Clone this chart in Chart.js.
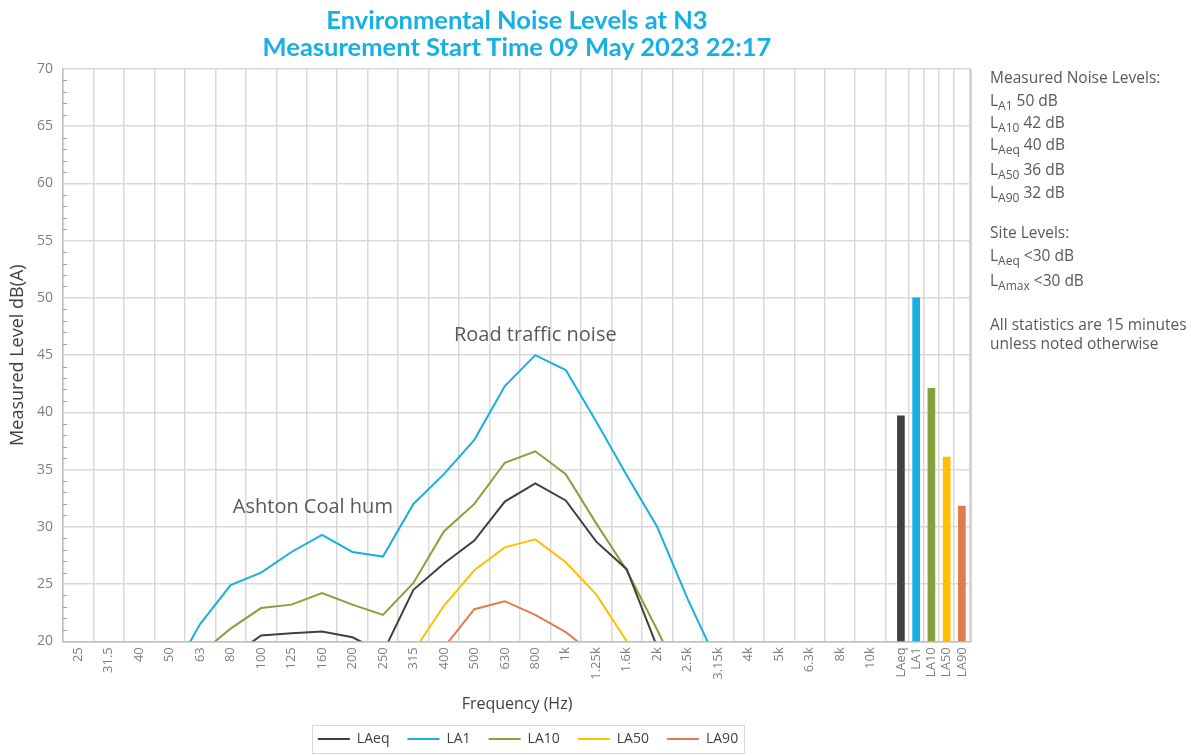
<!DOCTYPE html>
<html>
<head>
<meta charset="utf-8">
<script src="https://cdn.jsdelivr.net/npm/chart.js@4.4.0/dist/chart.umd.min.js"></script>
<style>
  body { margin: 0; background: #fff; }
  #wrap { position: relative; width: 1192px; height: 756px; }
  #noise { position: absolute; left: 0; top: 0; }
  #title { position: absolute; left: 0; top: 6px; width: 1034px; text-align: center;
    font-family: Lato, sans-serif; font-weight: bold; font-size: 25.5px; line-height: 27px; color: #17b0e2; }
  #panel { position: absolute; left: 990px; top: 0; font-family: "Open Sans", sans-serif; font-size: 15.5px; color: #595959; }
  #panel div { position: absolute; white-space: nowrap; }
  #panel sub { font-size: 12px; vertical-align: -4px; }
</style>
</head>
<body>
<div id="wrap">
  <canvas id="noise" width="1056" height="756"></canvas>
  <div id="title">Environmental Noise Levels at N3<br>Measurement Start Time 09 May 2023 22:17</div>
  <div id="panel"></div>
</div>
<script>
// frequency bands on the x axis
var freqLabels = ['25','31.5','40','50','63','80','100','125','160','200','250','315','400','500',
  '630','800','1k','1.25k','1.6k','2k','2.5k','3.15k','4k','5k','6.3k','8k','10k'];

// spectrum values dB(A) (below 20 = off the chart)
var LAeq = [9, 10, 11.5, 14, 16.5, 18.6, 20.5, 20.7, 20.85, 20.35, 19.0, 24.5, 26.8, 28.8, 32.2, 33.8, 32.3, 28.7, 26.3, 19.5, 15, 12, 10.5, 9.5, 9, 8.5, 8];
var LA1  = [13.5, 14, 15, 16.8, 21.5, 24.9, 26.0, 27.8, 29.3, 27.8, 27.4, 32.0, 34.6, 37.6, 42.3, 45.0, 43.7, 39.2, 34.5, 30.0, 23.7, 18.0, 15.5, 14, 12.5, 11.5, 10.5];
var LA10 = [11, 12, 13.5, 16, 18.9, 21.1, 22.9, 23.2, 24.2, 23.2, 22.3, 25.1, 29.6, 32.0, 35.6, 36.6, 34.6, 30.3, 26.2, 21.0, 15.5, 12.5, 11, 10, 9, 8.5, 8];
var LA50 = [7, 8, 9, 10.5, 12, 13.5, 15, 15.5, 16, 16, 16.5, 19.1, 23.1, 26.2, 28.2, 28.9, 26.9, 24.1, 20.0, 16.5, 13, 10.5, 9, 8, 7.5, 7, 6.5];
var LA90 = [6, 7, 8, 9, 10, 11, 12, 12.5, 13, 13, 13.5, 16.5, 19.45, 22.8, 23.5, 22.3, 20.8, 18.7, 16.5, 14, 11.5, 9.5, 8, 7, 6.5, 6, 5.5];

// overall levels shown as bars at the right
var barLabels = ['LAeq', 'LA1', 'LA10', 'LA50', 'LA90'];
var barValues = [39.7, 50.0, 42.1, 36.1, 31.8];

var yTicks = [20, 25, 30, 35, 40, 45, 50, 55, 60, 65, 70];

var colors = {LAeq: '#404040', LA1: '#17b0e2', LA10: '#88a03c', LA50: '#ffbf00', LA90: '#e27b4b'};

// text notes on the plot (x = band index, y = dB)
var notes = [
  {text: 'Ashton Coal hum', x: 7.7, y: 31.7},
  {text: 'Road traffic noise', x: 15, y: 46.7}
];

// side panel text
var panelLines = [
  {top: 66, html: 'Measured Noise Levels:'},
  {top: 89, html: 'L<sub>A1</sub> 50 dB'},
  {top: 111, html: 'L<sub>A10</sub> 42 dB'},
  {top: 133, html: 'L<sub>Aeq</sub> 40 dB'},
  {top: 158, html: 'L<sub>A50</sub> 36 dB'},
  {top: 181, html: 'L<sub>A90</sub> 32 dB'},
  {top: 221, html: 'Site Levels:'},
  {top: 244, html: 'L<sub>Aeq</sub> &lt;30 dB'},
  {top: 269, html: 'L<sub>Amax</sub> &lt;30 dB'},
  {top: 313, html: 'All statistics are 15 minutes'},
  {top: 332, html: 'unless noted otherwise'}
];

var panel = document.getElementById('panel');
panelLines.forEach(function(l) {
  var d = document.createElement('div');
  d.style.top = l.top + 'px';
  d.innerHTML = l.html;
  panel.appendChild(d);
});

// x positions: one unit per band, bars packed at half a unit
var tickPos = [];
var tickText = [];
freqLabels.forEach(function(f, i) { tickPos.push(i); tickText.push(f); });
barLabels.forEach(function(b, j) { tickPos.push(freqLabels.length + j * 0.5); tickText.push(b); });

function series(name, vals) {
  return {
    type: 'line',
    label: name,
    data: vals.map(function(v, i) { return {x: i, y: v}; }),
    borderColor: colors[name],
    backgroundColor: colors[name],
    borderWidth: 2,
    pointRadius: 0,
    tension: 0
  };
}

var extras = {
  id: 'extras',
  afterDraw: function(chart) {
    var ctx = chart.ctx, a = chart.chartArea, x = chart.scales.x, y = chart.scales.y;
    ctx.save();
    ctx.strokeStyle = '#c8c8c8';
    ctx.lineWidth = 1.5;
    ctx.beginPath();
    ctx.moveTo(a.right, a.top);
    ctx.lineTo(a.right, a.bottom);
    ctx.stroke();
    // minor ticks on the y axis
    ctx.lineWidth = 1;
    ctx.strokeStyle = '#a0a0a0';
    ctx.beginPath();
    for (var v = 21; v < 70; v++) {
      if (v % 5 === 0) continue;
      var py = Math.round(y.getPixelForValue(v)) + 0.5;
      ctx.moveTo(a.left, py);
      ctx.lineTo(a.left + 4, py);
    }
    ctx.stroke();
    // notes
    ctx.font = '20px "Open Sans"';
    ctx.fillStyle = '#595959';
    ctx.textAlign = 'center';
    ctx.textBaseline = 'middle';
    notes.forEach(function(n) {
      ctx.fillText(n.text, x.getPixelForValue(n.x), y.getPixelForValue(n.y));
    });
    // legend frame
    var hb = chart.legend.legendHitBoxes;
    if (hb && hb.length) {
      var l = Infinity, r = -Infinity, t = Infinity, b = -Infinity;
      hb.forEach(function(h) {
        l = Math.min(l, h.left); r = Math.max(r, h.left + h.width);
        t = Math.min(t, h.top); b = Math.max(b, h.top + h.height);
      });
      ctx.strokeStyle = '#d9d9d9';
      ctx.lineWidth = 1;
      ctx.strokeRect(Math.round(l - 6) + 0.5, Math.round(t - 7) + 0.5, Math.round(r - l + 12), Math.round(b - t + 14));
    }
    ctx.restore();
  }
};

var ctx = document.getElementById('noise');
new Chart(ctx, {
  data: {
    datasets: [
      series('LAeq', LAeq),
      series('LA1', LA1),
      series('LA10', LA10),
      series('LA50', LA50),
      series('LA90', LA90),
      {
        type: 'bar',
        label: 'overall',
        data: barValues.map(function(v, j) { return {x: freqLabels.length + j * 0.5, y: v}; }),
        backgroundColor: barLabels.map(function(b) { return colors[b]; }),
        barThickness: 7
      }
    ]
  },
  options: {
    responsive: false,
    devicePixelRatio: 1,
    animation: false,
    layout: {padding: {left: 0, right: 0, top: 69, bottom: 0}},
    plugins: {
      title: {display: false},
      legend: {
        position: 'bottom',
        labels: {
          usePointStyle: true,
          pointStyle: 'line',
          pointStyleWidth: 32,
          color: '#404040',
          font: {family: 'Open Sans', size: 14},
          padding: 18,
          filter: function(item) { return item.datasetIndex < 5; }
        }
      },
      tooltip: {enabled: false}
    },
    scales: {
      x: {
        type: 'linear',
        offset: false,
        min: -0.5,
        max: 29.3,
        afterBuildTicks: function(axis) {
          axis.ticks = tickPos.map(function(p) { return {value: p}; });
        },
        ticks: {
          autoSkip: false,
          minRotation: 90,
          maxRotation: 90,
          color: '#7f7f7f',
          font: {family: 'Open Sans', size: 13},
          padding: 6,
          callback: function(value, index) { return tickText[index]; }
        },
        grid: {color: '#d9d9d9', lineWidth: 1.5, drawTicks: false},
        border: {color: '#bfbfbf', width: 1.5},
        title: {display: true, text: 'Frequency (Hz)', color: '#404040', font: {family: 'Open Sans', size: 16}, padding: {top: 9, bottom: 0}}
      },
      y: {
        min: 20,
        max: 70,
        afterBuildTicks: function(axis) {
          axis.ticks = yTicks.map(function(v) { return {value: v}; });
        },
        afterFit: function(scale) { scale.width = 63; },
        ticks: {
          color: '#7f7f7f',
          font: {family: 'Open Sans', size: 14},
          padding: 10
        },
        grid: {color: '#d9d9d9', lineWidth: 1.5, drawTicks: false},
        border: {color: '#bfbfbf', width: 1.5},
        title: {display: true, text: 'Measured Level dB(A)', color: '#404040', font: {family: 'Open Sans', size: 18}, padding: {top: 7, bottom: 0}}
      },
      // blank right-hand axis, only to leave the right margin
      spacer: {
        type: 'linear',
        position: 'right',
        display: true,
        afterFit: function(scale) { scale.width = 85; },
        ticks: {display: false},
        grid: {display: false},
        border: {display: false}
      }
    }
  },
  plugins: [extras]
});
</script>
</body>
</html>
